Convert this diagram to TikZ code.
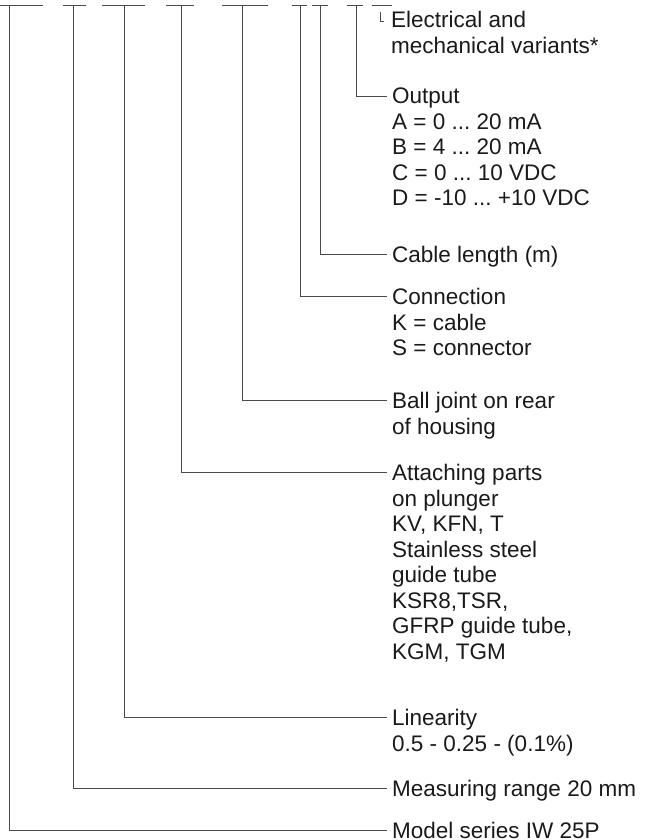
\documentclass[tikz,border=0pt]{standalone}
\usepackage{fontspec}
\setmainfont{Liberation Sans}
\usetikzlibrary{positioning}
\definecolor{leadGray}{HTML}{4A4A4A}
\definecolor{textDark}{HTML}{1A1A1A}
\frenchspacing
\begin{document}
\begin{tikzpicture}[x=1pt, y=-1pt,
    every node/.style={font=\fontsize{22.5}{25.5}\selectfont, text=textDark},
    lbl/.style={anchor=north west, align=left, inner sep=0pt},
    lead/.style={draw=leadGray, line width=0.9pt},
    topbar/.style={draw=leadGray, line width=0.9pt}]
  \useasboundingbox (0,0) rectangle (645,840);
  % legend texts (top of first line)
  \node[lbl] (elec)  at (391, 11) {Electrical and\\mechanical variants*};
  \node[lbl] (out)   at (392, 88) {Output\\A = 0 ... 20 mA\\B = 4 ... 20 mA\\C = 0 ... 10 VDC\\D = -10 ... +10 VDC};
  \node[lbl] (cab)   at (392,246) {Cable length (m)};
  \node[lbl] (con)   at (392,288) {Connection\\K = cable\\S = connector};
  \node[lbl] (ball)  at (392,392) {Ball joint on rear\\of housing};
  \node[lbl] (att)   at (392,464) {Attaching parts\\on plunger\\KV, KFN, T\\Stainless steel\\guide tube\\KSR8,TSR,\\GFRP guide tube,\\KGM, TGM};
  \node[lbl] (lin)   at (392,709) {Linearity\\0.5 - 0.25 - (0.1\%)};
  \node[lbl] (meas)  at (392,780) {Measuring range 20 mm};
  \node[lbl] (model) at (392,822) {Model series IW 25P};
  % tops of the code positions
  \coordinate (tModel) at (9,5);
  \coordinate (tMeas)  at (73,5);
  \coordinate (tLin)   at (124,5);
  \coordinate (tAtt)   at (181,5);
  \coordinate (tBall)  at (242,5);
  \coordinate (tCon)   at (300,5);
  \coordinate (tCab)   at (320,5);
  \coordinate (tOut)   at (356,5);
  \coordinate (tElec)  at (380,12);
  % bars of the type code
  \draw[topbar] (0,5) -- (43,5);
  \draw[topbar] (63,5) -- (86,5);
  \draw[topbar] (102,5) -- (145,5);
  \draw[topbar] (166,5) -- (194,5);
  \draw[topbar] (222,5) -- (268,5);
  \draw[topbar] (292,5) -- (307,5);
  \draw[topbar] (312,5) -- (328,5);
  \draw[topbar] (347,5) -- (363,5);
  \draw[topbar] (372,5) -- (392,5);
  % leaders
  \draw[lead] (tElec)  |- ([xshift=-7pt,yshift=-10pt]elec.north west);
  \draw[lead] (tOut)   |- ([xshift=-5pt,yshift=-8pt]out.north west);
  \draw[lead] (tCab)   |- ([xshift=-5pt,yshift=-8pt]cab.north west);
  \draw[lead] (tCon)   |- ([xshift=-5pt,yshift=-8pt]con.north west);
  \draw[lead] (tBall)  |- ([xshift=-5pt,yshift=-8pt]ball.north west);
  \draw[lead] (tAtt)   |- ([xshift=-5pt,yshift=-8pt]att.north west);
  \draw[lead] (tLin)   |- ([xshift=-5pt,yshift=-8pt]lin.north west);
  \draw[lead] (tMeas)  |- ([xshift=-5pt,yshift=-8pt]meas.north west);
  \draw[lead] (tModel) |- ([xshift=-5pt,yshift=-8pt]model.north west);
\end{tikzpicture}
\end{document}
